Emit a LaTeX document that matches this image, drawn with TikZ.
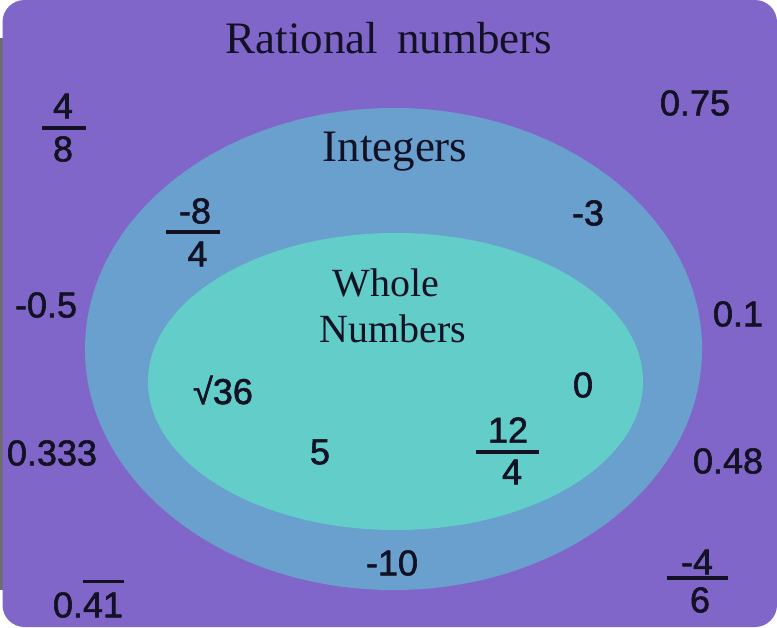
\documentclass[tikz,border=0pt]{standalone}
\usepackage{fontspec}
\setmainfont{Liberation Serif}
\newfontfamily\numfont[FakeBold=1.6]{Liberation Sans}
\definecolor{bgpurple}{RGB}{129,102,201}
\definecolor{intblue}{RGB}{106,160,206}
\definecolor{wholeteal}{RGB}{99,205,202}
\definecolor{ink}{RGB}{18,18,36}
\definecolor{edgegray}{RGB}{110,110,110}
\begin{document}
\begin{tikzpicture}[x=1pt,y=-1pt,
  num/.style={font=\numfont\fontsize{36}{40}\selectfont, inner sep=0pt, text=ink},
  ttl/.style={font=\fontsize{45}{48}\selectfont, inner sep=0pt, text=ink, anchor=base},
  wtl/.style={font=\fontsize{40}{44}\selectfont, inner sep=0pt, text=ink, anchor=base},
  fracbar/.style={fill=ink, inner sep=0pt, minimum height=3.5pt, draw=none}]
\useasboundingbox (0,0) rectangle (777,627);
\fill[white] (0,0) rectangle (777,627);
\fill[edgegray] (0,38) rectangle (2.5,590);
\fill[bgpurple, rounded corners=22pt] (2.5,0) rectangle (777,627);
\fill[intblue] (393.5,349) ellipse [x radius=308.5pt, y radius=241pt];
\fill[wholeteal] (395.5,381.5) ellipse [x radius=247.5pt, y radius=148.5pt];

% titles
\node[ttl] (rational) at (389,53) {Rational\hspace{0.18em} numbers};
\node[ttl] (integers) at (395,161) {Integers};
\node[wtl] (wholeA) at (386,296) {Whole};
\node[wtl] (wholeB) at (393,342) {Numbers};

% rational numbers outside integers
\node[num] (n48) at (63,106) {4};
\node[fracbar, minimum width=44pt] (b48) at (64,128) {};
\node[num] (d48) at (63,149) {8};
\node[num] (n075) at (695,103) {0.75};
\node[num] (nm05) at (46,305) {-0.5};
\node[num] (n01) at (738,314) {0.1};
\node[num] (n0333) at (52,453) {0.333};
\node[num] (n048) at (728,461) {0.48};
\node[num] (n041) at (88,605) {0.41};
\node[fracbar, minimum width=41pt, minimum height=3pt] (o041) at (103.5,581) {};
\node[num] (nm46) at (697,562) {-4};
\node[fracbar, minimum width=61pt] (bm46) at (697.5,578) {};
\node[num] (dm46) at (700,600) {6};

% integers
\node[num] (nm84) at (195,211) {-8};
\node[fracbar, minimum width=54pt] (bm84) at (193,232) {};
\node[num] (dm84) at (197.5,254) {4};
\node[num] (nm3) at (588,213) {-3};
\node[num] (nm10) at (392,563) {-10};

% whole numbers
\node[num] (nsq) at (223,390) {√36};
\node[num] (n0) at (583,385) {0};
\node[num] (n5) at (320,452) {5};
\node[num] (n124) at (508,430) {12};
\node[fracbar, minimum width=63pt] (b124) at (507.5,452) {};
\node[num] (d124) at (512,472) {4};
\end{tikzpicture}
\end{document}
